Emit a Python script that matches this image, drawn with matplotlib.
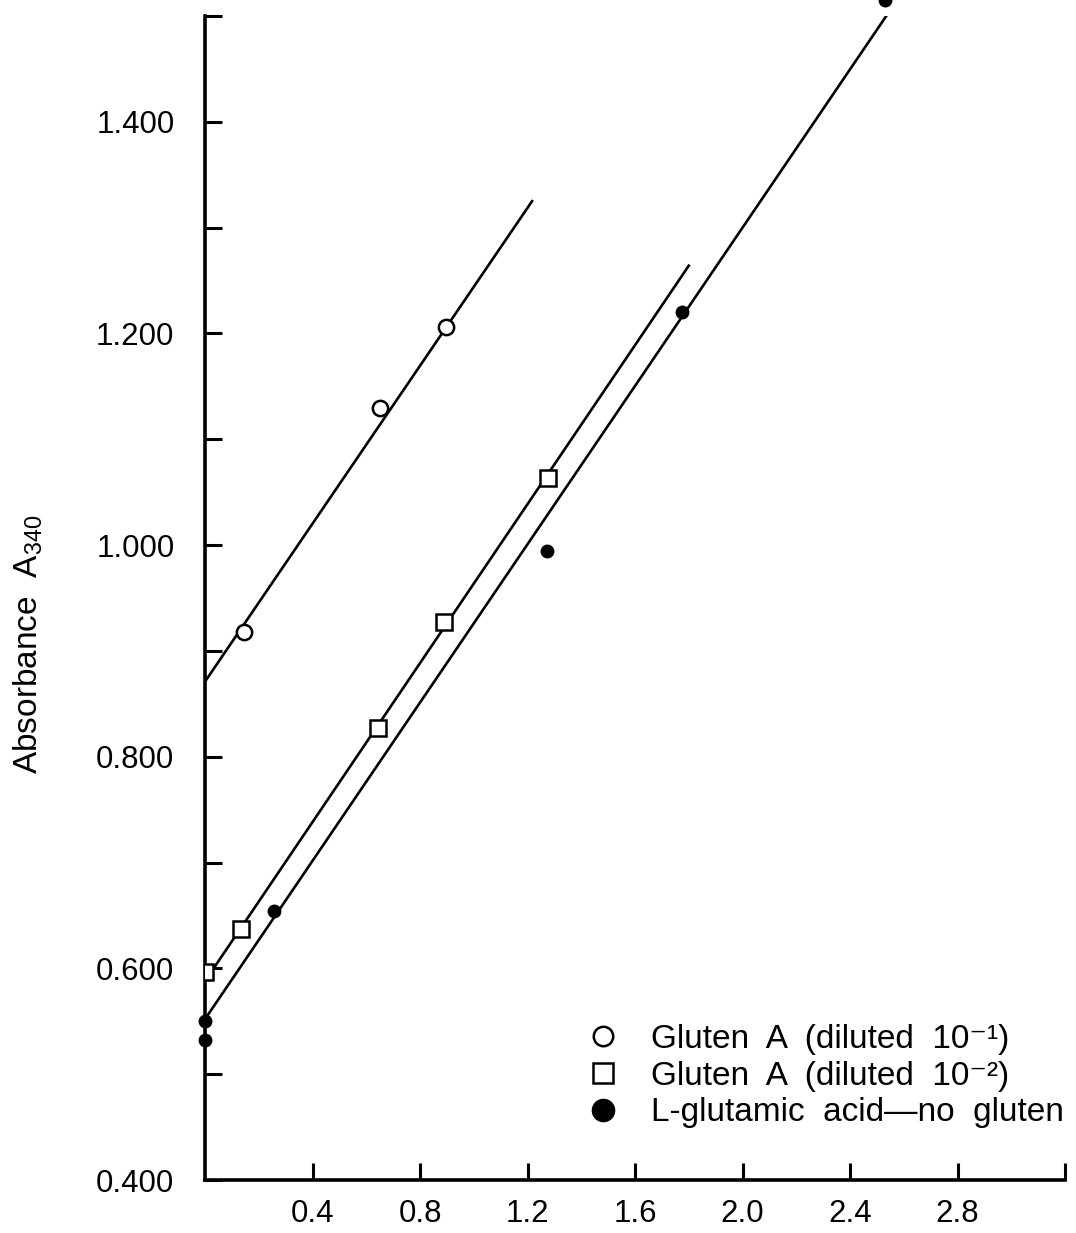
import numpy as np
import matplotlib
matplotlib.use("Agg")
import matplotlib.pyplot as plt
from matplotlib.lines import Line2D

plt.rcParams['font.family'] = ['Liberation Sans', 'DejaVu Sans']
plt.rcParams['mathtext.default'] = 'regular'

# Gluten A diluted 10^-1 (open circles)
x_circ = [0.145, 0.651, 0.897]
y_circ = [0.918, 1.130, 1.206]
# Gluten A diluted 10^-2 (open squares)
x_sq = [0.0, 0.134, 0.644, 0.889, 1.276]
y_sq = [0.597, 0.637, 0.827, 0.927, 1.063]
# L-glutamic acid - no gluten (filled dots)
x_dot = [0.0, 0.0, 0.256, 1.272, 1.775, 2.53]
y_dot = [0.550, 0.532, 0.654, 0.994, 1.220, 1.515]

# fitted lines (end points)
fit_circ_x = [0.0, 1.217]
fit_circ_y = [0.871, 1.325]
fit_sq_x = [0.0, 1.80]
fit_sq_y = [0.588, 1.264]
fit_dot_x = [0.0, 2.567]
fit_dot_y = [0.552, 1.512]

labels = ["Gluten  A  (diluted  10\u207b\u00b9)",
          "Gluten  A  (diluted  10\u207b\u00b2)",
          "L-glutamic  acid\u2014no  gluten"]

fig = plt.figure(figsize=(10.76, 12.33), dpi=100)
ax = fig.add_axes([205/1076, 1-1180/1233, 860/1076, 1164/1233])

lw = 1.9
ax.plot(fit_circ_x, fit_circ_y, c='k', lw=lw)
ax.plot(fit_sq_x, fit_sq_y, c='k', lw=lw)
ax.plot(fit_dot_x, fit_dot_y, c='k', lw=lw)

ax.plot(x_circ, y_circ, ls='none', marker='o', ms=11, mfc='white', mec='k', mew=1.8, zorder=3)
ax.plot(x_sq, y_sq, ls='none', marker='s', ms=11.5, mfc='white', mec='k', mew=1.8, zorder=3)
ax.plot(x_dot, y_dot, ls='none', marker='o', ms=9, mfc='k', mec='k', zorder=4, clip_on=False)

ax.set_xlim(0, 3.2)
ax.set_ylim(0.4, 1.5)

ax.spines['top'].set_visible(False)
ax.spines['right'].set_visible(False)
for s in ['left', 'bottom']:
    ax.spines[s].set_linewidth(2.6)

ax.set_xticks([0.4, 0.8, 1.2, 1.6, 2.0, 2.4, 2.8])
ax.set_xticklabels(['0.4', '0.8', '1.2', '1.6', '2.0', '2.4', '2.8'])
ax.set_xticks([3.2], minor=True)
ax.set_yticks([0.4, 0.6, 0.8, 1.0, 1.2, 1.4])
ax.set_yticklabels(['0.400', '0.600', '0.800', '1.000', '1.200', '1.400'])
ax.set_yticks([0.5, 0.7, 0.9, 1.1, 1.3, 1.5], minor=True)
ax.tick_params(which='both', direction='in', length=12, width=2.2, labelsize=22.5, color='k')
ax.tick_params(axis='x', pad=14)
ax.tick_params(axis='y', pad=22)

ax.set_ylabel("Absorbance  A$_{340}$", fontsize=24)
ax.yaxis.set_label_coords(-0.186, 0.46)

handles = [Line2D([], [], ls='none', marker='o', ms=14, mfc='white', mec='k', mew=1.8),
           Line2D([], [], ls='none', marker='s', ms=15, mfc='white', mec='k', mew=1.8),
           Line2D([], [], ls='none', marker='o', ms=16, mfc='k', mec='k')]
ax.legend(handles, labels, loc='lower left', bbox_to_anchor=(0.451, 0.0443), frameon=False,
          fontsize=24, handlelength=0.6, handletextpad=1.15, borderpad=0, borderaxespad=0,
          labelspacing=0.17)

fig.savefig("out.png", dpi=100, facecolor='white')
